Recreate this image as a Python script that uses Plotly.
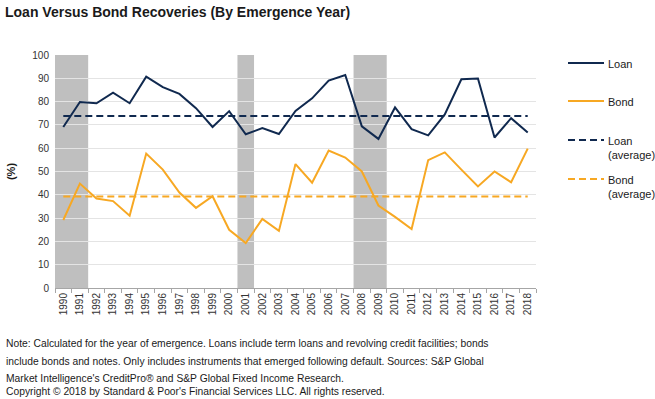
import plotly.graph_objects as go

YEARS = [str(y) for y in range(1990, 2019)]
LOAN = [69.1, 79.8, 79.3, 83.8, 79.3, 90.7, 86.2, 83.3, 77.2, 69.1, 75.9, 66.0, 68.6, 66.1, 76.0, 81.4, 89.0,
        91.4, 69.4, 64.0, 77.5, 68.2, 65.5, 74.5, 89.6, 89.9, 64.6, 72.9, 66.7]
BOND = [29.2, 44.8, 38.4, 37.3, 31.0, 57.7, 50.8, 41.0, 34.4, 39.4, 25.0, 19.3, 29.6, 24.5, 53.2, 45.2, 59.0,
        56.0, 50.0, 35.4, 30.5, 25.3, 54.9, 58.2, 50.8, 43.6, 50.0, 45.4, 59.8]
LOAN_AVG = 73.8
BOND_AVG = 39.3
RECESSIONS = [("1990", "1991"), ("2001", "2001"), ("2008", "2009")]
Y_TICKS = list(range(0, 101, 10))

TITLE = "Loan Versus Bond Recoveries (By Emergence Year)"
LEGEND_LABELS = ["Loan", "Bond", "Loan<br>(average)", "Bond<br>(average)"]
NOTES = [
    "Note: Calculated for the year of emergence. Loans include term loans and revolving credit facilities; bonds",
    "include bonds and notes. Only includes instruments that emerged following default. Sources: S&P Global",
    "Market Intelligence's CreditPro\u00ae and S&P Global Fixed Income Research.",
    "Copyright \u00a9 2018 by Standard & Poor's Financial Services LLC. All rights reserved.",
]

NAVY = "#10294F"
GOLD = "#F7A823"
FONT = "Liberation Sans, Arial, sans-serif"
DASH = "7px,4px"

# plot area in pixels
PL, PR, PT, PB = 55, 536, 55, 288
PW, PH = PR - PL, PB - PT


def px(x):
    return (x - PL) / PW


def py(y):
    return (PB - y) / PH


fig = go.Figure()
styles = [
    dict(color=NAVY, width=2),
    dict(color=GOLD, width=2),
    dict(color=NAVY, width=2, dash=DASH),
    dict(color=GOLD, width=2, dash=DASH),
]
series = [LOAN, BOND, [LOAN_AVG] * len(YEARS), [BOND_AVG] * len(YEARS)]
for vals, name, st in zip(series, LEGEND_LABELS, styles):
    fig.add_trace(go.Scatter(x=YEARS, y=vals, mode="lines", name=name.replace("<br>", " "),
                             line=st, showlegend=False))

for a, b in RECESSIONS:
    i0 = YEARS.index(a)
    i1 = YEARS.index(b)
    fig.add_shape(type="rect", xref="x", yref="y", x0=i0 - 0.5, x1=i1 + 0.5, y0=0, y1=100,
                  fillcolor="#BFBFBF", line_width=0, layer="below")

# manual legend
leg_y = [63, 101, 140, 179]
for lab, st, ly in zip(LEGEND_LABELS, styles, leg_y):
    fig.add_shape(type="line", xref="paper", yref="paper", x0=px(568), x1=px(604), y0=py(ly), y1=py(ly),
                  line=dict(color=st["color"], width=2, dash=st.get("dash", "solid")))
    fig.add_annotation(text=lab, xref="paper", yref="paper", x=px(606), y=py(ly - 7),
                       xanchor="left", yanchor="top", showarrow=False, align="left",
                       font=dict(family=FONT, size=11, color="#1a1a1a"))

note_y = [343, 361, 378, 391]
for txt, ny in zip(NOTES, note_y):
    fig.add_annotation(text=txt, xref="paper", yref="paper", x=px(4), y=py(ny),
                       xanchor="left", yanchor="middle", showarrow=False,
                       font=dict(family=FONT, size=10.3, color="#1a1a1a"))

fig.update_layout(
    width=655, height=399,
    margin=dict(l=PL, r=655 - PR, t=PT, b=399 - PB),
    paper_bgcolor="white", plot_bgcolor="white",
    font=dict(family=FONT, size=10, color="#333333"),
    title=dict(text="<b>" + TITLE + "</b>", x=5 / 655, xanchor="left", y=1 - 12 / 399, yanchor="middle",
               font=dict(family=FONT, size=14, color="#1a1a1a")),
    showlegend=False,
    xaxis=dict(type="category", range=[-0.5, len(YEARS) - 0.5], tickangle=-90,
               tickson="boundaries", ticks="outside", ticklen=4, tickcolor="#A6A6A6",
               showline=True, linecolor="#A6A6A6", linewidth=1, showgrid=False,
               tickfont=dict(size=10, color="#333333")),
    yaxis=dict(range=[0, 100], tickvals=Y_TICKS, showgrid=True, gridcolor="#E4E4E4",
               zeroline=False, showline=False, ticks="", ticklabelstandoff=5,
               tickfont=dict(size=10, color="#333333"),
               title=dict(text="<b>(%)</b>", standoff=14, font=dict(size=11, color="#1a1a1a"))),
)

fig.write_html("out.html", config={"displayModeBar": False},
               post_script="document.body.style.margin='0';")
